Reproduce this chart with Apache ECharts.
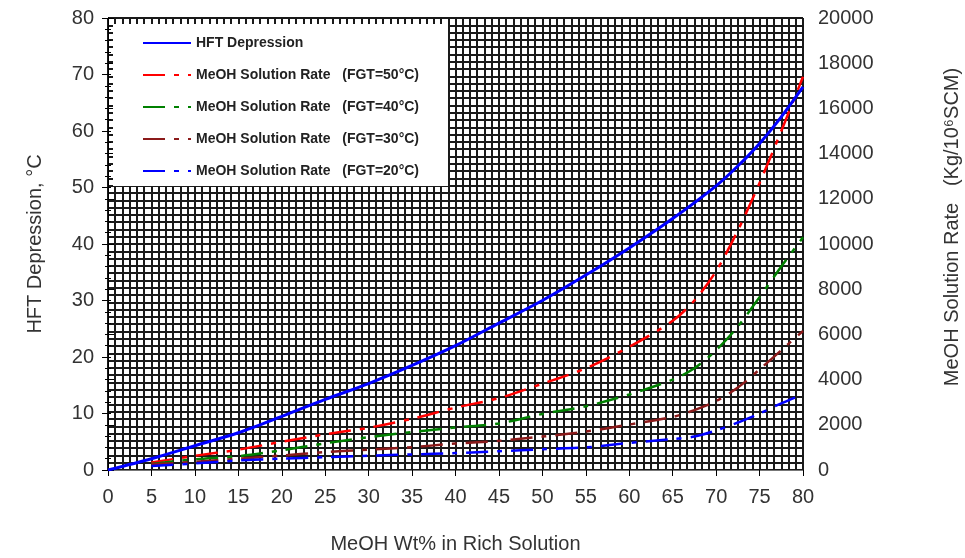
<!DOCTYPE html>
<html>
<head>
<meta charset="utf-8">
<script src="https://cdn.jsdelivr.net/npm/echarts@6/dist/echarts.min.js"></script>
<style>
html, body { margin: 0; background: #fff; }
#chart { width: 965px; height: 558px; }
</style>
</head>
<body>
<div id="chart"></div>
<script>
// HFT depression (left axis, °C)
const hftX = [0, 5, 10, 15, 20, 25, 30, 35, 40, 45, 50, 55, 60, 65, 70, 72.5, 75, 77.5, 80]
const hftDepression = [0, 2.0, 4.3, 6.6, 9.5, 12.5, 15.3, 18.5, 22, 26, 30, 34.5, 39.3, 44.5, 50.3, 53.8, 57.8, 62.5, 67.8]

// MeOH solution rate (right axis, Kg/10^6 SCM)
const rateX = [5, 10, 15, 20, 25, 30, 35, 40, 45, 50, 55, 60, 65, 67.5, 70, 72.5, 75, 77.5, 80]
const rateFgt50 = [330, 630, 900, 1250, 1580, 1870, 2270, 2760, 3180, 3820, 4500, 5450, 6600, 7500, 8800, 10600, 12700, 15000, 17400]
const rateFgt40 = [270, 470, 610, 870, 1180, 1450, 1680, 1880, 2060, 2480, 2820, 3340, 4000, 4500, 5300, 6350, 7650, 9000, 10300]
const rateFgt30 = [250, 360, 500, 640, 790, 900, 1010, 1170, 1290, 1480, 1700, 2010, 2350, 2650, 3050, 3650, 4450, 5300, 6150]
const rateFgt20 = [180, 290, 420, 500, 570, 630, 690, 750, 830, 920, 1000, 1200, 1370, 1480, 1750, 2100, 2500, 2950, 3350]

const seriesNames = [
  'HFT Depression',
  'MeOH Solution Rate   (FGT=50°C)',
  'MeOH Solution Rate   (FGT=40°C)',
  'MeOH Solution Rate   (FGT=30°C)',
  'MeOH Solution Rate   (FGT=20°C)'
]

const pairs = (xs, ys) => xs.map((x, i) => [x, ys[i]])
const font = 'Liberation Sans, Arial, sans-serif'
const dashDot = [22, 9, 5, 9]

const chart = echarts.init(document.getElementById('chart'))

function rateSeries (name, values, color) {
  return {
    name: name,
    type: 'line',
    xAxisIndex: 0,
    yAxisIndex: 1,
    symbol: 'none',
    smooth: 0.3,
    data: pairs(rateX, values),
    lineStyle: { color: color, width: 2.5, type: dashDot },
    itemStyle: { color: color },
    z: 3
  }
}

const option = {
  animation: false,
  backgroundColor: '#fff',
  grid: { left: 108, right: 162, top: 18, bottom: 88, outerBoundsMode: 'none' },
  legend: {
    orient: 'vertical',
    left: 113,
    top: 24,
    padding: [12, 29, 8, 29],
    itemWidth: 48,
    itemHeight: 14,
    itemGap: 18,
    backgroundColor: '#fff',
    data: seriesNames,
    itemStyle: { opacity: 0 },
    textStyle: { fontFamily: font, fontSize: 14, fontWeight: 'bold', color: '#222' }
  },
  xAxis: [
    {
      type: 'value',
      min: 0,
      max: 80,
      interval: 5,
      name: 'MeOH Wt% in Rich Solution',
      nameLocation: 'middle',
      nameGap: 64,
      nameTextStyle: { fontFamily: font, fontSize: 20, color: '#333' },
      axisLine: { lineStyle: { color: '#000', width: 1 } },
      axisTick: { length: 6, lineStyle: { color: '#000' } },
      axisLabel: { fontFamily: font, fontSize: 20, color: '#333', margin: 17 },
      splitLine: { show: false }
    },
    {
      // graph-paper background
      type: 'value',
      min: 0,
      max: 96,
      interval: 1,
      position: 'top',
      axisLine: { show: true, lineStyle: { color: '#777', width: 1 } },
      axisTick: { show: false },
      axisLabel: { show: false },
      splitLine: { show: true, lineStyle: { color: '#1a1a1a', width: 2 } }
    }
  ],
  yAxis: [
    {
      type: 'value',
      min: 0,
      max: 80,
      interval: 10,
      position: 'left',
      name: 'HFT Depression, °C',
      nameLocation: 'middle',
      nameGap: 63,
      nameTextStyle: { fontFamily: font, fontSize: 20, color: '#333' },
      axisLine: { show: true, lineStyle: { color: '#000', width: 1 } },
      axisTick: { show: true, length: 6, lineStyle: { color: '#000' } },
      minorTick: { show: true, splitNumber: 5, length: 3, lineStyle: { color: '#000' } },
      axisLabel: { fontFamily: font, fontSize: 20, color: '#333', margin: 14 },
      splitLine: { show: false }
    },
    {
      type: 'value',
      min: 0,
      max: 20000,
      interval: 2000,
      position: 'right',
      name: 'MeOH Solution Rate   (Kg/10⁶SCM)',
      nameLocation: 'middle',
      nameGap: 139,
      nameRotate: 90,
      nameTextStyle: { fontFamily: font, fontSize: 20, color: '#333', padding: [0, 0, 0, 34] },
      axisLine: { show: true, lineStyle: { color: '#000', width: 1 } },
      axisTick: { show: true, length: 6, lineStyle: { color: '#000' } },
      minorTick: { show: true, splitNumber: 4, length: 3, lineStyle: { color: '#000' } },
      axisLabel: { fontFamily: font, fontSize: 20, color: '#333', margin: 15, formatter: v => String(v) },
      splitLine: { show: false }
    },
    {
      // graph-paper background
      type: 'value',
      min: 0,
      max: 62,
      interval: 1,
      position: 'left',
      axisLine: { show: false },
      axisTick: { show: false },
      axisLabel: { show: false },
      splitLine: { show: true, lineStyle: { color: '#1a1a1a', width: 2 } }
    }
  ],
  series: [
    {
      name: seriesNames[0],
      type: 'line',
      xAxisIndex: 0,
      yAxisIndex: 0,
      symbol: 'none',
      smooth: 0.3,
      data: pairs(hftX, hftDepression),
      lineStyle: { color: '#0000ff', width: 3 },
      itemStyle: { color: '#0000ff' },
      z: 4
    },
    rateSeries(seriesNames[1], rateFgt50, '#ff0000'),
    rateSeries(seriesNames[2], rateFgt40, '#008000'),
    rateSeries(seriesNames[3], rateFgt30, '#8b1a1a'),
    rateSeries(seriesNames[4], rateFgt20, '#0000ff')
  ]
}

chart.setOption(option)
</script>
</body>
</html>
